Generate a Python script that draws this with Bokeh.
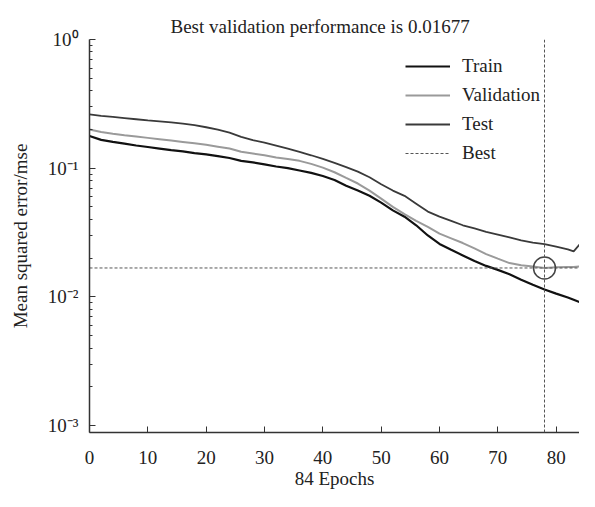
from bokeh.plotting import figure
from bokeh.models import Range1d, FixedTicker, Span, Legend, LegendItem
from bokeh.embed import file_html
from bokeh.resources import INLINE

# ---- data ----
epochs = [0, 2, 4, 6, 8, 10, 12, 14, 16, 18, 20, 22, 24, 26, 28, 30, 32, 34, 36, 38,
          40, 42, 44, 46, 48, 50, 52, 54, 56, 58, 60, 62, 64, 66, 68, 70, 72, 74, 76, 78,
          80, 82, 83, 84]
train = [0.178, 0.166, 0.160, 0.155, 0.150, 0.146, 0.142, 0.138, 0.135, 0.131,
         0.128, 0.124, 0.120, 0.114, 0.111, 0.107, 0.103, 0.100, 0.096, 0.092,
         0.087, 0.081, 0.073, 0.067, 0.061, 0.054, 0.047, 0.042, 0.036, 0.030,
         0.0258, 0.0232, 0.0210, 0.0190, 0.0174, 0.0162, 0.0150, 0.0136, 0.0124, 0.0114,
         0.0106, 0.0099, 0.0095, 0.0091]
validation = [0.200, 0.191, 0.185, 0.180, 0.176, 0.172, 0.168, 0.164, 0.160, 0.156,
              0.152, 0.147, 0.142, 0.134, 0.130, 0.126, 0.121, 0.118, 0.114, 0.108,
              0.101, 0.093, 0.084, 0.076, 0.067, 0.058, 0.050, 0.044, 0.039, 0.035,
              0.031, 0.0285, 0.0262, 0.0238, 0.0215, 0.0198, 0.0183, 0.0176, 0.0172, 0.01677,
              0.0170, 0.0171, 0.0171, 0.0172]
test = [0.262, 0.255, 0.250, 0.245, 0.240, 0.235, 0.231, 0.227, 0.222, 0.216,
        0.208, 0.199, 0.189, 0.175, 0.165, 0.158, 0.150, 0.142, 0.134, 0.126,
        0.118, 0.110, 0.102, 0.094, 0.085, 0.075, 0.067, 0.061, 0.053, 0.046,
        0.042, 0.039, 0.036, 0.034, 0.032, 0.0305, 0.0290, 0.0275, 0.0264, 0.0257,
        0.0246, 0.0234, 0.0226, 0.0255]
best_epoch = 78
best_perf = 0.01677

x_min, x_max = 0, 84
y_min, y_max = 0.000883, 1.0
x_ticks = [0, 10, 20, 30, 40, 50, 60, 70, 80]
y_ticks = [0.001, 0.01, 0.1, 1.0]
y_tick_labels = ["10\u207b\u00b3", "10\u207b\u00b2", "10\u207b\u00b9", "10\u2070"]
y_minor_ticks = [m * d for d in (0.001, 0.01, 0.1) for m in range(2, 10)]

title_text = "Best validation performance is 0.01677"
x_label = "84 Epochs"
y_label = "Mean squared error/mse"

FONT = "Liberation Serif"
INK = "#222222"

p = figure(width=579, height=491, y_axis_type="log",
           x_range=Range1d(x_min, x_max), y_range=Range1d(y_min, y_max),
           output_backend="svg", toolbar_location=None,
           min_border_left=89, min_border_right=0, min_border_top=39, min_border_bottom=59)

p.outline_line_color = None
p.xgrid.visible = False
p.ygrid.visible = False

# title
p.title.text = title_text
p.title.align = "left"
p.title.offset = 81
p.title.standoff = 6
p.title.text_font = FONT
p.title.text_font_size = "19px"
p.title.text_font_style = "normal"
p.title.text_color = INK

# axes
for ax in (p.xaxis[0], p.yaxis[0]):
    ax.axis_line_color = "#333333"
    ax.axis_line_width = 1.5
    ax.major_tick_line_color = "#333333"
    ax.minor_tick_line_color = "#333333"
    ax.major_tick_in = 6
    ax.major_tick_out = 0
    ax.minor_tick_in = 3
    ax.minor_tick_out = 0
    ax.major_label_text_font = FONT
    ax.major_label_text_font_size = "19px"
    ax.major_label_text_color = INK
    ax.axis_label_text_font = FONT
    ax.axis_label_text_font_size = "19px"
    ax.axis_label_text_font_style = "normal"
    ax.axis_label_text_color = INK

p.xaxis.ticker = FixedTicker(ticks=x_ticks)
p.xaxis.major_label_standoff = 18
p.xaxis.axis_label = x_label
p.xaxis.axis_label_standoff = 1
p.yaxis.ticker = FixedTicker(ticks=y_ticks, minor_ticks=y_minor_ticks)
p.yaxis.major_label_overrides = dict(zip(y_ticks, y_tick_labels))
p.yaxis.major_label_standoff = 11
p.yaxis.axis_label = y_label
p.yaxis.axis_label_standoff = 14

# curves
r_test = p.line(epochs, test, line_color="#3a3a3a", line_width=1.8)
r_val = p.line(epochs, validation, line_color="#9a9a9a", line_width=2)
r_train = p.line(epochs, train, line_color="#111111", line_width=2.2)

# best markers
r_best = p.line([x_min, x_max], [best_perf, best_perf], line_color="#555555",
                line_width=1, line_dash="3 2")
p.add_layout(Span(location=best_epoch, dimension="height", line_color="#555555",
                  line_width=1, line_dash="3 2"))
p.scatter([best_epoch], [best_perf], marker="circle", size=22, fill_color=None,
          line_color="#444444", line_width=1.5)

legend = Legend(items=[LegendItem(label="Train", renderers=[r_train]),
                       LegendItem(label="Validation", renderers=[r_val]),
                       LegendItem(label="Test", renderers=[r_test]),
                       LegendItem(label="Best", renderers=[r_best])],
                location=(316, 268))
legend.padding = 0
legend.margin = 0
legend.border_line_color = None
legend.background_fill_alpha = 0
legend.glyph_width = 45
legend.glyph_height = 20
legend.label_height = 20
legend.label_standoff = 12
legend.spacing = 7
legend.label_text_font = FONT
legend.label_text_font_size = "19px"
legend.label_text_color = INK
p.add_layout(legend)

open("out.html", "w").write(file_html(p, INLINE))
